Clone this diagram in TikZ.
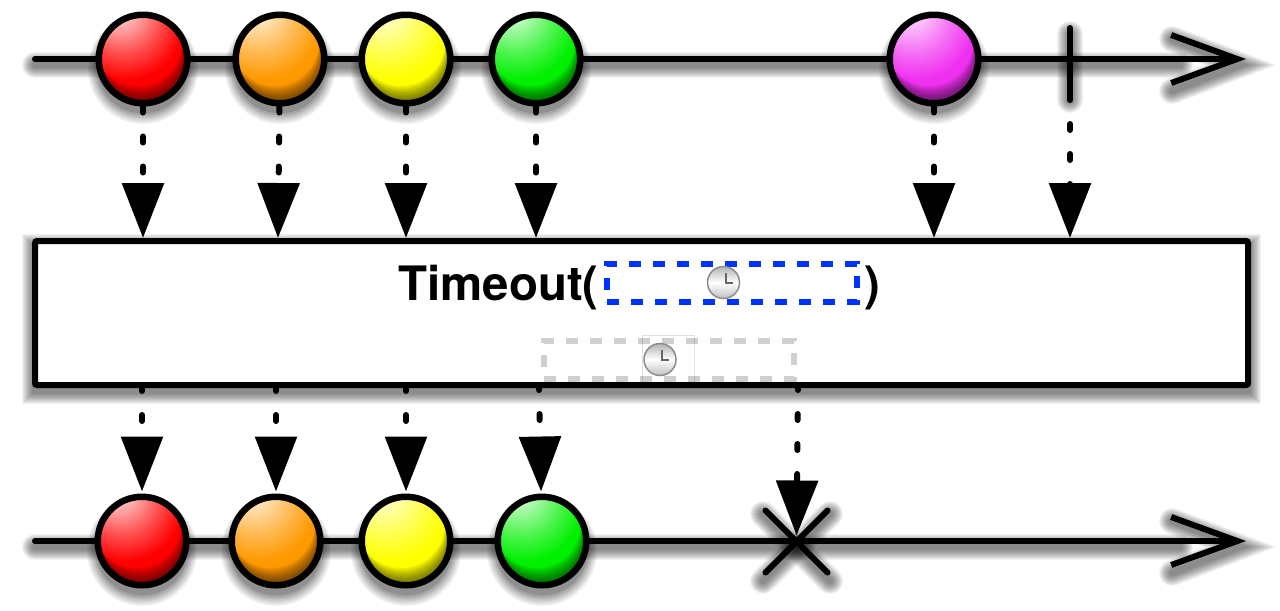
\documentclass[tikz,border=0pt]{standalone}
\usepackage{fontspec}
\setmainfont{TeX Gyre Heros}
\usetikzlibrary{arrows.meta,shapes.misc,shadows}

\def\pxu{.02cm}

% spheres: highlight up and to the left, the dark rim comes from the path picture
\newcommand{\ballshading}[2]{%
  \pgfdeclareradialshading{ball#1}{\pgfpoint{-15bp}{32bp}}{%
    color(0bp)=(#2!5!white); color(8bp)=(#2!25!white); color(22bp)=(#2!70!white);
    color(33bp)=(#2); color(100bp)=(#2)}}
\definecolor{ballorange}{HTML}{FF9900}
\definecolor{ballyellow}{HTML}{FFFF00}
\definecolor{ballgreen}{HTML}{00F000}
\definecolor{ballpink}{HTML}{F030F0}
\definecolor{slotblue}{HTML}{0033FF}
\definecolor{slotgrey}{HTML}{CFCFCF}
\ballshading{red}{red}
\ballshading{orange}{ballorange}
\ballshading{yellow}{ballyellow}
\ballshading{green}{ballgreen}
\ballshading{pink}{ballpink}

\newcommand{\softline}[1]{%
  \foreach \w in {26,24,...,6} {
    \draw[black, opacity=.05, line cap=round, line width=\w*\pxu, transform canvas={yshift=-6*\pxu}] #1;
  }}

\tikzset{
  softball/.style={
    general shadow={fill=black,opacity=.07,shadow scale=1.24,shadow yshift=-8*\pxu},
    general shadow={fill=black,opacity=.07,shadow scale=1.20,shadow yshift=-8*\pxu},
    general shadow={fill=black,opacity=.08,shadow scale=1.16,shadow yshift=-8*\pxu},
    general shadow={fill=black,opacity=.09,shadow scale=1.12,shadow yshift=-8*\pxu},
    general shadow={fill=black,opacity=.10,shadow scale=1.08,shadow yshift=-8*\pxu},
    general shadow={fill=black,opacity=.12,shadow scale=1.04,shadow yshift=-8*\pxu}},
  ball/.style={circle, draw=black, softball, line width=6.5*\pxu, inner sep=0pt, minimum size=88.5*\pxu, shading=ball#1,
    path picture={
      \foreach \o in {2,3.5,...,18} {
        \fill[black, opacity=.065, even odd rule]
          ([shift={(-60,-60)}]path picture bounding box.center) rectangle ([shift={(60,60)}]path picture bounding box.center)
          ([shift={(-.3*\o,-\o)}]path picture bounding box.center) circle (44);
      }
    }},
  timeline/.style={draw=black, line width=6*\pxu, line cap=round,
    -{Straight Barb[length=66*\pxu,width=48*\pxu,line width=6*\pxu]}},
  feed/.style={line width=6*\pxu, line cap=round, dash pattern=on 6*\pxu off 24*\pxu,
    -{Triangle[length=55*\pxu,width=41*\pxu]}},
  slot/.style={draw=#1, line width=6*\pxu, dash pattern=on 12*\pxu off 12*\pxu, inner sep=0pt,
    minimum width=250*\pxu, minimum height=38*\pxu},
  clockface/.pic={
    \shade[top color=black!30, bottom color=black!25, middle color=white, draw=black!45, line width=1.5*\pxu] (0,0) circle (16);
    \draw[black!60, line width=2*\pxu] (2,-10) -- (2,0) -- (9,0);
  }
}

\begin{document}
\begin{tikzpicture}[x=\pxu, y=-\pxu]
  \fill[white] (0,0) rectangle (1280,610);
  \useasboundingbox (0,0) rectangle (1280,610);

  \coordinate (in_start) at (35,59);
  \coordinate (in_end) at (1246,59);
  \coordinate (out_start) at (35,541);
  \coordinate (out_end) at (1246,541);
  \coordinate (tick_top) at (1070,28);
  \coordinate (tick_end) at (1070,94);
  \coordinate (box_nw) at (35,241);
  \coordinate (box_se) at (1248,385);

  % shadows and lines under the balls
  \softline{(in_start) -- (1180,59)}
  \softline{(1172,33) -- (1240,59) -- (1172,85)}
  \softline{(tick_top) -- (tick_end)}
  \softline{(out_start) -- (1180,541)}
  \softline{(1172,515) -- (1240,541) -- (1172,567)}
  \softline{(763,508) -- (830,575)}
  \softline{(763,575) -- (830,508)}
  \softline{(box_nw) rectangle (box_se)}
  \path[timeline] (in_start) -- (in_end);
  \path[timeline] (out_start) -- (out_end);
  \draw[line width=6*\pxu, line cap=round] (tick_top) -- (tick_end);

  \node[ball=red] (in_red) at (143,59) {};
  \node[ball=orange] (in_orange) at (280,59) {};
  \node[ball=yellow] (in_yellow) at (406,59) {};
  \node[ball=green] (in_green) at (536,59) {};
  \node[ball=pink] (in_pink) at (934,59) {};

  \node[ball=red] (out_red) at (142,541) {};
  \node[ball=orange] (out_orange) at (276,541) {};
  \node[ball=yellow] (out_yellow) at (406,541) {};
  \node[ball=green] (out_green) at (542,541) {};

  \node[draw=black, fill=white, rounded corners=2*\pxu, line width=6*\pxu, inner sep=0pt,
    minimum width=1213*\pxu, minimum height=144*\pxu] (box) at (641.5,313) {};

  \node[anchor=base east, inner sep=0pt, font=\fontsize{27pt}{30pt}\selectfont\bfseries] (timeout_label) at (599,300) {Timeout(};
  \node[anchor=base west, inner sep=0pt, font=\fontsize{27pt}{30pt}\selectfont\bfseries] (close_label) at (864,300) {)};
  \node[slot=slotblue] (blue_slot) at (732,283) {};
  \node[slot=slotgrey] (grey_slot) at (668.5,360) {};
  \node[draw=black, draw opacity=.12, line width=1*\pxu, inner sep=0pt, minimum width=52*\pxu, minimum height=50*\pxu] (clock_frame) at (668,360) {};
  \pic at (723.5,282.5) {clockface};
  \pic at (660,359.5) {clockface};

  \node[cross out, draw=black, line width=6*\pxu, line cap=round, inner sep=0pt, outer sep=0pt, minimum size=62*\pxu] (stop) at (796.5,541.5) {};

  \coordinate (green_drop) at (539,387);
  \coordinate (stop_drop) at (798,387);

  \path[feed] (in_red) edge (in_red |- box.north);
  \path[feed] (in_orange) edge ([xshift=-2*\pxu]in_orange |- box.north);
  \path[feed] (in_yellow) edge (in_yellow |- box.north);
  \path[feed] (in_green) edge (in_green |- box.north);
  \path[feed] (in_pink) edge (in_pink |- box.north);
  \path[feed] (tick_end) edge (tick_end |- box.north);

  \path[feed, dash phase=3*\pxu, shorten >=2*\pxu] (out_red |- box.south) edge (out_red);
  \path[feed, dash phase=3*\pxu, shorten >=2*\pxu] (out_orange |- box.south) edge (out_orange);
  \path[feed, dash phase=3*\pxu, shorten >=2*\pxu] (out_yellow |- box.south) edge (out_yellow);
  \path[feed, dash phase=3*\pxu, shorten >=2*\pxu] (green_drop) edge (out_green);
  \path[feed, dash phase=3*\pxu, shorten >=6*\pxu] (stop_drop) edge (stop.center);
\end{tikzpicture}
\end{document}
